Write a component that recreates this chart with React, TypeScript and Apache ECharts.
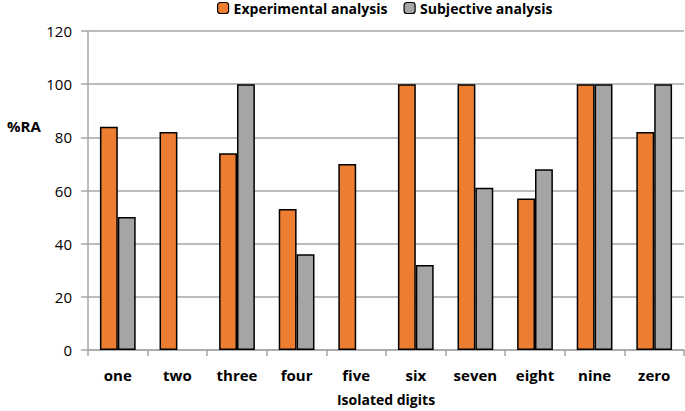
import React, { useEffect, useRef } from "react";
import * as echarts from "echarts";

const categories = ["one", "two", "three", "four", "five", "six", "seven", "eight", "nine", "zero"];
const experimental: (number | null)[] = [84, 82, 74, 53, 70, 100, 100, 57, 100, 82];
const subjective: (number | null)[] = [50, null, 100, 36, null, 32, 61, 68, 100, 100];
const seriesNames = ["Experimental analysis", "Subjective analysis"];
const yTicks = { min: 0, max: 120, step: 20 };

const FONT = "'Open Sans', Lato, sans-serif";

export default function App() {
  const ref = useRef<HTMLDivElement>(null);
  useEffect(() => {
    if (!ref.current) return;
    const chart = echarts.init(ref.current, undefined, { renderer: "svg" });
    chart.setOption({
      animation: false,
      textStyle: { fontFamily: FONT },
      legend: {
        top: 0,
        left: 212,
        padding: [0, 5],
        itemWidth: 11,
        itemHeight: 11,
        itemGap: 16,
        textStyle: { fontFamily: FONT, fontSize: 14, fontWeight: "bold", color: "#000", lineHeight: 16 },
        data: seriesNames.map((n) => ({ name: n, itemStyle: { borderColor: "#000", borderWidth: 1.2 } })),
      },
      grid: { left: 88, right: 1, top: 31, bottom: 59, containLabel: false },
      graphic: [
        {
          type: "text",
          left: 7,
          top: 118,
          style: { text: "%RA", font: `bold 15px ${FONT}`, fill: "#000" },
        },
      ],
      xAxis: {
        type: "category",
        data: categories,
        name: "Isolated digits",
        nameLocation: "middle",
        nameGap: 42,
        nameTextStyle: { fontFamily: FONT, fontSize: 14, fontWeight: "bold", color: "#000" },
        axisLine: { lineStyle: { color: "#a6a6a6", width: 1.5 } },
        axisTick: { show: true, length: 6, lineStyle: { color: "#a6a6a6", width: 1.5 } },
        axisLabel: { fontFamily: FONT, fontSize: 15, fontWeight: "bold", color: "#000", margin: 17 },
      },
      yAxis: {
        type: "value",
        min: yTicks.min,
        max: yTicks.max,
        interval: yTicks.step,
        axisLine: { show: true, lineStyle: { color: "#a6a6a6", width: 1.5 } },
        axisTick: { show: true, length: 7, lineStyle: { color: "#a6a6a6", width: 1.5 } },
        axisLabel: { fontFamily: FONT, fontSize: 15, color: "#000", margin: 16 },
        splitLine: { lineStyle: { color: "#a6a6a6", width: 1.5 } },
      },
      series: [
        {
          name: seriesNames[0],
          type: "bar",
          data: experimental,
          barGap: "0%",
          barCategoryGap: "40%",
          itemStyle: { color: "#ED7D31", borderColor: "#000", borderWidth: 1.5 },
        },
        {
          name: seriesNames[1],
          type: "bar",
          data: subjective,
          itemStyle: { color: "#A5A5A5", borderColor: "#000", borderWidth: 1.5 },
        },
      ],
    });
    return () => chart.dispose();
  }, []);
  return <div ref={ref} style={{ position: "absolute", left: 0, top: 0, width: 685, height: 411 }} />;
}
